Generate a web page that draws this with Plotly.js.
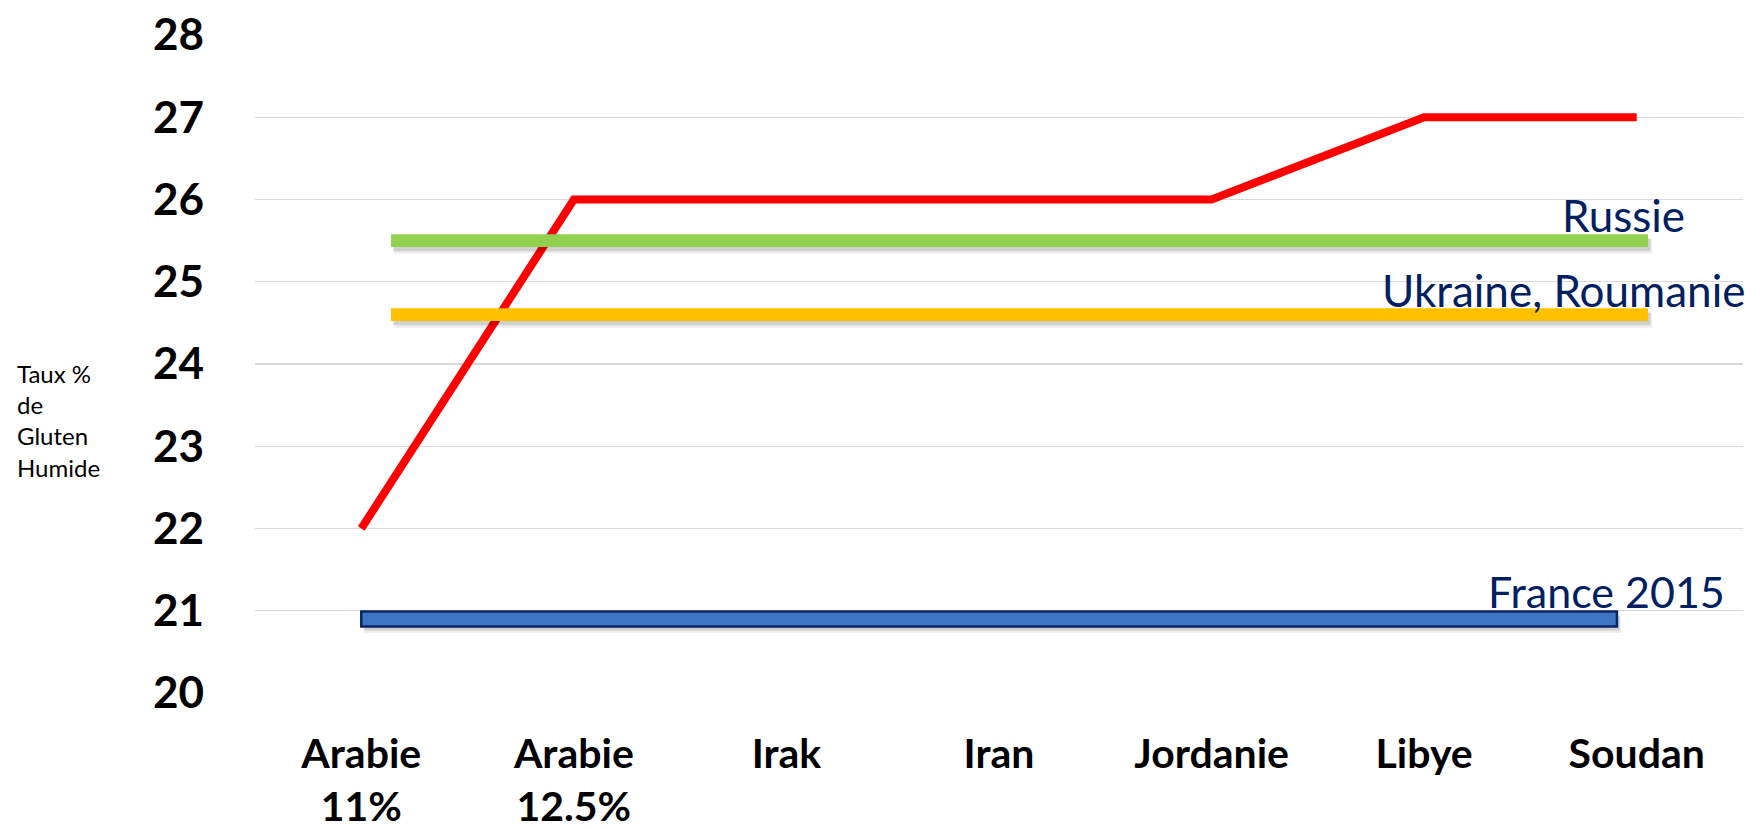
<!DOCTYPE html>
<html>
<head>
<meta charset="utf-8">
<script src="https://cdn.plot.ly/plotly-3.0.1.min.js"></script>
<style>
  html, body { margin: 0; padding: 0; background: #ffffff; }
  #chart { width: 1760px; height: 829px; }
</style>
</head>
<body>
<div id="chart"></div>
<script>
// ---- data ----
const categories = ["Arabie<br>11%", "Arabie<br>12.5%", "Irak", "Iran", "Jordanie", "Libye", "Soudan"];
const glutenValues = [22, 26, 26, 26, 26, 27, 27];

const refNames  = ["Russie", "Ukraine, Roumanie", "France 2015"];
const refValues = [25.5, 24.6, 20.9];

const yTickVals = [20, 21, 22, 23, 24, 25, 26, 27, 28];
const yTickText = ["20", "21", "22", "23", "24", "25", "26", "27", "28"];

// ---- styles ----
const refColors   = ["#92d050", "#ffc000", "#3f76c3"];
const refX0       = [0.14, 0.14, 0.0];
const refX1       = [6.053, 6.053, 5.907];
const labelX      = [5.64, 4.79, 5.29];
const labelOffset = [0.31, 0.30, 0.33];
const labelSize   = [44, 44, 43];
const navy = "#002060";

const shapes = [];
// soft shadows first
for (let i = 0; i < refValues.length; i++) {
  const isBar = (i === 2);
  const half = isBar ? 0.09 : 0.078;
  shapes.push({
    type: "rect", xref: "x", yref: "y", layer: "above",
    x0: refX0[i] + 0.015, x1: refX1[i] + 0.02,
    y0: refValues[i] - half - 0.08, y1: refValues[i] + half - 0.06,
    fillcolor: "rgba(0,0,0,0.07)", line: { width: 0 }
  });
  shapes.push({
    type: "rect", xref: "x", yref: "y", layer: "above",
    x0: refX0[i] + 0.01, x1: refX1[i] + 0.012,
    y0: refValues[i] - half - 0.05, y1: refValues[i] + half - 0.05,
    fillcolor: "rgba(0,0,0,0.12)", line: { width: 0 }
  });
}
for (let i = 0; i < refValues.length; i++) {
  const isBar = (i === 2);
  const half = isBar ? 0.09 : 0.078;
  shapes.push({
    type: "rect", xref: "x", yref: "y", layer: "above",
    x0: refX0[i], x1: refX1[i],
    y0: refValues[i] - half, y1: refValues[i] + half,
    fillcolor: refColors[i],
    line: isBar ? { color: "#0b2466", width: 2.5 } : { width: 0 }
  });
}

const annotations = refNames.map((name, i) => ({
  text: name, xref: "x", yref: "y",
  x: labelX[i], y: refValues[i] + labelOffset[i],
  xanchor: "left", yanchor: "middle", showarrow: false,
  font: { family: "Lato, 'Open Sans', sans-serif", size: labelSize[i], color: navy }
}));
annotations.push({
  text: "Taux %<br>de<br>Gluten<br>Humide",
  xref: "paper", yref: "paper", x: -0.1613, y: 0.414,
  xanchor: "left", yanchor: "middle", align: "left", showarrow: false,
  font: { family: "Lato, 'Open Sans', sans-serif", size: 24, color: "#000000" }
});

const traces = [{
  type: "scatter", mode: "lines",
  x: categories, y: glutenValues,
  line: { color: "#ff0000", width: 8 },
  hoverinfo: "skip", showlegend: false
}];

const layout = {
  width: 1760, height: 829,
  margin: { l: 255, r: 17, t: 35, b: 136 },
  paper_bgcolor: "#ffffff", plot_bgcolor: "#ffffff",
  showlegend: false,
  font: { family: "Lato, 'Open Sans', sans-serif", color: "#000000" },
  xaxis: {
    type: "category",
    showgrid: false, zeroline: false, showline: false, ticks: "",
    range: [-0.5, 6.5],
    tickfont: { family: "Lato, sans-serif", size: 41, color: "#000000", weight: "bold" },
    ticklabelstandoff: 33
  },
  yaxis: {
    range: [20, 28],
    tickvals: yTickVals, ticktext: yTickText,
    showgrid: true, gridcolor: "#d9d9d9", gridwidth: 1.3,
    zeroline: false, showline: false, ticks: "",
    tickfont: { family: "Lato, sans-serif", size: 44, color: "#000000", weight: "bold" },
    ticklabelstandoff: 50
  },
  shapes: shapes,
  annotations: annotations
};

Plotly.newPlot("chart", traces, layout, { staticPlot: true, displayModeBar: false });
</script>
</body>
</html>
